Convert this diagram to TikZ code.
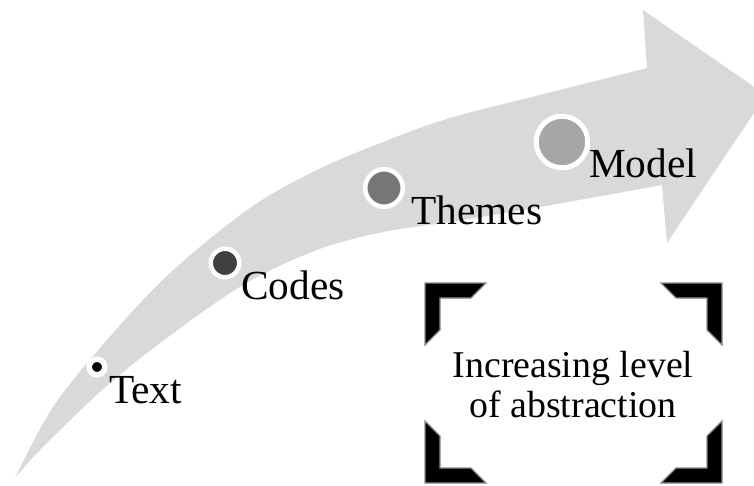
\documentclass[tikz,border=0pt]{standalone}
\usepackage{fontspec}
\setmainfont{Liberation Serif}
\definecolor{bandgray}{HTML}{D9D9D9}
\definecolor{dotA}{HTML}{000000}
\definecolor{dotB}{HTML}{404040}
\definecolor{dotC}{HTML}{777777}
\definecolor{dotD}{HTML}{A6A6A6}
\tikzset{
  stagedot/.style={circle, draw=white, inner sep=0pt},
  stagelabel/.style={anchor=base west, inner sep=0pt, font=\fontsize{41.5}{44}\selectfont},
  boxtext/.style={anchor=base, inner sep=0pt, font=\fontsize{38}{40}\selectfont},
  cornermark/.style={fill=black, draw=black!45, line width=1.2bp, line join=miter}
}
\begin{document}
\begin{tikzpicture}[x=1bp,y=-1bp]
\useasboundingbox (0,0) rectangle (754,486);
\clip (0,0) rectangle (754,486);
% curved arrow band
\fill[bandgray]
  plot[smooth, tension=0.55] coordinates {(15,478) (53,407) (107,340) (170,273) (250,208) (317,170) (383,142) (450,118) (540,95) (647,68)}
  -- (643,10) -- (766,95) -- (667,243) -- (662,185)
  -- plot[smooth, tension=0.55] coordinates {(662,185) (540,207) (450,222) (383,232) (317,250) (243,285) (160,343) (100,392) (40,450) (15,478)}
  -- cycle;
% stage dots
\node[stagedot, fill=dotA, minimum size=15.5bp, line width=5.5bp] (dtext) at (97,367) {};
\node[stagedot, fill=dotB, minimum size=28.5bp, line width=4.5bp] (dcodes) at (225,263) {};
\node[stagedot, fill=dotC, minimum size=37.5bp, line width=4.5bp] (dthemes) at (384,188) {};
\node[stagedot, fill=dotD, minimum size=51.5bp, line width=5bp] (dmodel) at (562,142) {};
% labels
\node[stagelabel] (ltext) at (109,403) {Text};
\node[stagelabel] (lcodes) at (241,300) {Codes};
\node[stagelabel] (lthemes) at (411,225) {Themes};
\node[stagelabel] (lmodel) at (589,178) {Model};
% corner brackets
\filldraw[cornermark] (425,283) -- (486,283) -- (471,298) -- (440,298) -- (440,330) -- (425,345) -- cycle;
\filldraw[cornermark] (722,283) -- (661,283) -- (676,298) -- (707,298) -- (707,330) -- (722,345) -- cycle;
\filldraw[cornermark] (425,483) -- (486,483) -- (471,468) -- (440,468) -- (440,436) -- (425,421) -- cycle;
\filldraw[cornermark] (722,483) -- (661,483) -- (676,468) -- (707,468) -- (707,436) -- (722,421) -- cycle;
% box text
\node[boxtext] (boxa) at (573,377) {Increasing level};
\node[boxtext] (boxb) at (573,417) {of abstraction};
\end{tikzpicture}
\end{document}
